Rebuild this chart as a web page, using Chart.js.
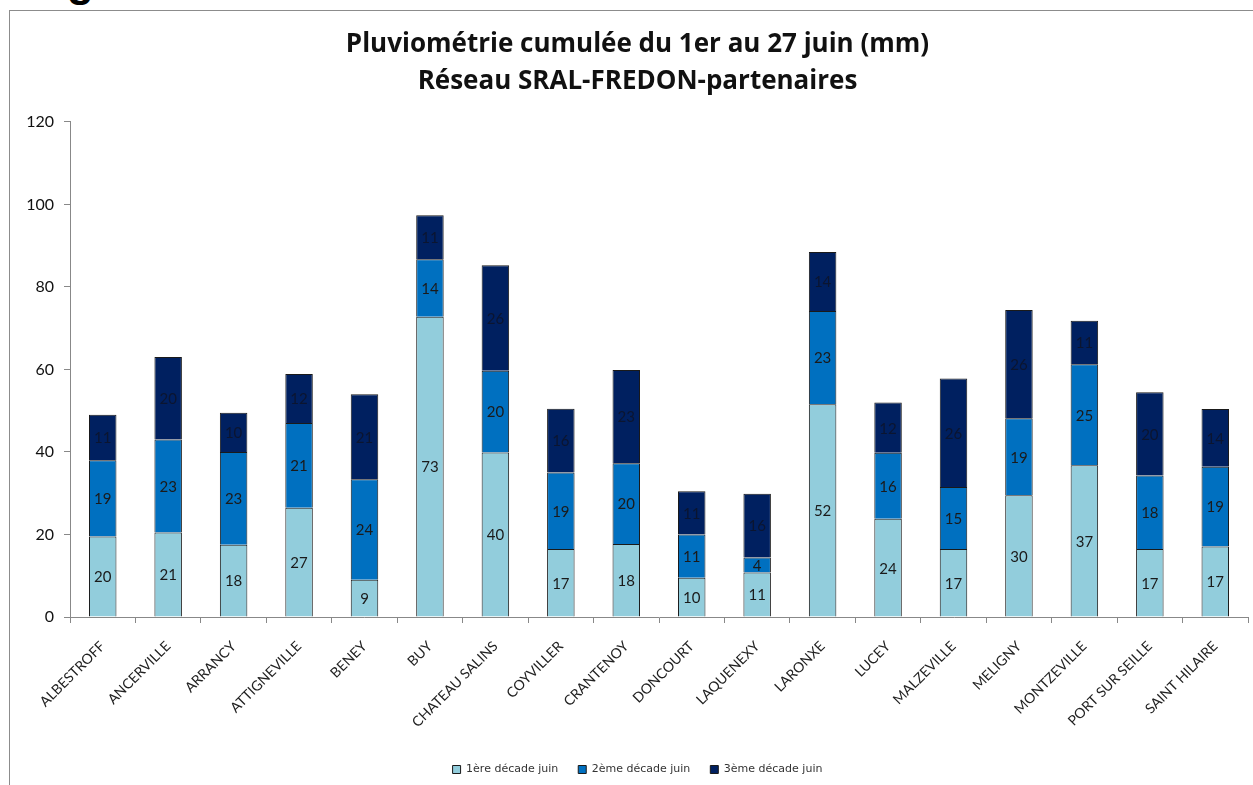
<!DOCTYPE html>
<html>
<head>
<meta charset="utf-8">
<script src="https://cdn.jsdelivr.net/npm/chart.js@4.4.0/dist/chart.umd.min.js"></script>
<style>
  html, body { margin: 0; padding: 0; background: #fff; }
  body { width: 1253px; height: 785px; position: relative; overflow: hidden; }
  #frame { position: absolute; left: 9px; top: 10px; width: 1300px; height: 800px; border: 1px solid #8c8c8c; }
  #glyph { position: absolute; left: 67px; top: -41px; font: bold 44px "Liberation Sans", Arial, sans-serif; line-height: 1; color: #000; }
  #wrap { position: absolute; left: 0; top: 0; width: 1253px; height: 785px; }
</style>
</head>
<body>
<div id="frame"></div>
<div id="glyph">g</div>
<div id="wrap"><canvas id="c" width="1253" height="785"></canvas></div>
<script>
const categories = ["ALBESTROFF", "ANCERVILLE", "ARRANCY", "ATTIGNEVILLE", "BENEY", "BUY", "CHATEAU SALINS", "COYVILLER", "CRANTENOY", "DONCOURT", "LAQUENEXY", "LARONXE", "LUCEY", "MALZEVILLE", "MELIGNY", "MONTZEVILLE", "PORT SUR SEILLE", "SAINT HILAIRE"];
const decade1 = [19.5, 20.5, 17.5, 26.5, 9.0, 72.8, 39.9, 16.5, 17.7, 9.5, 10.8, 51.6, 23.8, 16.5, 29.5, 36.8, 16.5, 17.1];
const decade2 = [18.5, 22.5, 22.5, 20.5, 24.4, 13.9, 19.8, 18.5, 19.6, 10.5, 3.6, 22.6, 16.0, 15.0, 18.7, 24.5, 17.8, 19.3];
const decade3 = [11.0, 20.0, 9.5, 11.9, 20.6, 10.7, 25.6, 15.5, 22.6, 10.5, 15.5, 14.3, 12.2, 26.3, 26.2, 10.5, 20.2, 14.0];
const seriesNames = ["1ère décade juin", "2ème décade juin", "3ème décade juin"];
const yTicks = [0, 20, 40, 60, 80, 100, 120];
const titleLines = ["Pluviométrie cumulée du 1er au 27 juin (mm)", "Réseau SRAL-FREDON-partenaires"];

const barLabels = {
  id: 'barLabels',
  afterDatasetsDraw(chart) {
    const ctx = chart.ctx;
    ctx.save();
    ctx.font = '15px Lato, "Open Sans", sans-serif';
    ctx.textAlign = 'center';
    ctx.textBaseline = 'middle';
    chart.data.datasets.forEach((ds, i) => {
      const meta = chart.getDatasetMeta(i);
      meta.data.forEach((bar, j) => {
        const v = ds.data[j];
        const cy = (bar.y + bar.base) / 2;
        ctx.fillStyle = i === 2 ? '#0b1530' : '#1a1a1a';
        ctx.fillText(String(Math.round(v)), bar.x, cy + 1);
      });
    });
    ctx.restore();
  }
};

new Chart(document.getElementById('c'), {
  type: 'bar',
  data: {
    labels: categories,
    datasets: [
      { label: seriesNames[0], data: decade1, backgroundColor: '#92CDDC', borderColor: '#1a1a1a', borderWidth: 1 },
      { label: seriesNames[1], data: decade2, backgroundColor: '#0070C0', borderColor: '#1a1a1a', borderWidth: 1 },
      { label: seriesNames[2], data: decade3, backgroundColor: '#002060', borderColor: '#1a1a1a', borderWidth: 1 }
    ]
  },
  options: {
    responsive: false,
    animation: false,
    layout: { padding: { left: 27, right: 5, top: 0, bottom: 0 } },
    datasets: { bar: { categoryPercentage: 1.0, barPercentage: 0.42 } },
    plugins: {
      title: {
        display: true,
        text: titleLines,
        color: '#111',
        font: { family: '"Open Sans", Lato, sans-serif', size: 26, weight: 'bold', lineHeight: 1.423 },
        padding: { top: 26.5, bottom: 21.5 }
      },
      legend: {
        position: 'bottom',
        labels: {
          boxWidth: 8, boxHeight: 8, padding: 20,
          color: '#333',
          font: { family: '"DejaVu Sans", sans-serif', size: 11 }
        }
      },
      tooltip: { enabled: false }
    },
    scales: {
      x: {
        stacked: true,
        grid: { display: true, drawOnChartArea: false, drawTicks: true, tickLength: 6, color: '#888', offset: true },
        border: { color: '#888' },
        ticks: {
          autoSkip: false, maxRotation: 45, minRotation: 45, padding: 15,
          color: '#222',
          font: { family: 'Lato, "Open Sans", sans-serif', size: 14 }
        },
        afterFit(s) { s.height = 127; }
      },
      y: {
        stacked: true,
        min: 0, max: 120,
        afterBuildTicks(s) { s.ticks = yTicks.map(v => ({ value: v })); },
        grid: { display: true, drawOnChartArea: false, drawTicks: true, tickLength: 6, color: '#888' },
        border: { color: '#888' },
        ticks: {
          padding: 10, color: '#111',
          font: { family: 'Lato, "Open Sans", sans-serif', size: 16 }
        },
        afterFit(s) { s.width = 43; }
      }
    }
  },
  plugins: [barLabels]
});
</script>
</body>
</html>
